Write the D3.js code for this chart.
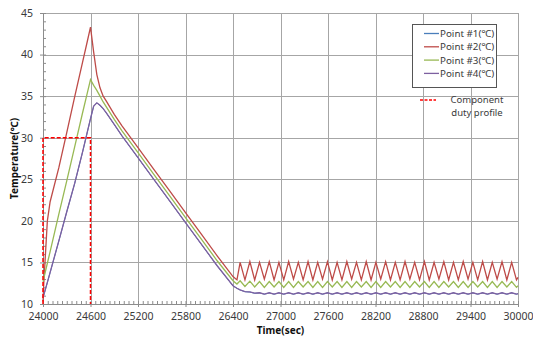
<!DOCTYPE html>
<html>
<head>
<meta charset="utf-8">
<script src="https://cdn.jsdelivr.net/npm/d3@7"></script>
<style>
body{ margin:0; background:#fff; }
text{ font-family:"Noto Sans","Noto Sans CJK KR",sans-serif; }
</style>
</head>
<body>
<div id="chart"></div>
<script>
// time axis (sec), shared by all four points
var times = [
	24000, 24010, 24025, 24055, 24090, 24200, 24300, 24400, 24500, 24560,
	24600, 24640, 24680, 24720, 24760, 24800, 24900, 25000, 25200, 25400,
	25600, 25800, 26000, 26200, 26400, 26450,
	26490, 26551, 26613, 26674, 26735, 26796, 26858, 26919, 26980, 27041,
	27103, 27164, 27225, 27286, 27348, 27409, 27470, 27531, 27593, 27654,
	27715, 27776, 27838, 27899, 27960, 28021, 28083, 28144, 28205, 28266,
	28328, 28389, 28450, 28511, 28573, 28634, 28695, 28756, 28818, 28879,
	28940, 29001, 29063, 29124, 29185, 29246, 29308, 29369, 29430, 29491,
	29553, 29614, 29675, 29736, 29798, 29859, 29920, 29981, 30000
];
// temperatures (℃)
var point1 = [
	10.78, 11.08, 11.58, 12.58, 13.78, 17.58, 21.08, 24.48, 28.28, 30.68,
	32.28, 33.78, 34.18, 33.88, 33.48, 32.98, 31.58, 30.18, 27.58, 24.98,
	22.38, 19.78, 17.18, 14.58, 12.18, 11.88,
	11.68, 11.48, 11.43, 11.28, 11.33, 11.18, 11.33, 11.18, 11.33, 11.18,
	11.33, 11.18, 11.33, 11.18, 11.33, 11.18, 11.33, 11.18, 11.33, 11.18,
	11.33, 11.18, 11.33, 11.18, 11.33, 11.18, 11.33, 11.18, 11.33, 11.18,
	11.33, 11.18, 11.33, 11.18, 11.33, 11.18, 11.33, 11.18, 11.33, 11.18,
	11.33, 11.18, 11.33, 11.18, 11.33, 11.18, 11.33, 11.18, 11.33, 11.18,
	11.33, 11.18, 11.33, 11.18, 11.33, 11.18, 11.33, 11.18, 11.23
];
var point2 = [
	10.3, 12.5, 15.0, 20.0, 22.3, 26.4, 30.6, 34.9, 39.1, 41.6,
	43.3, 40.3, 37.6, 36.0, 35.0, 34.4, 32.8, 31.4, 28.8, 26.2,
	23.6, 21.0, 18.4, 15.8, 13.3, 12.9,
	15.0, 12.9, 15.1, 12.9, 15.0, 13.0, 15.1, 12.9, 15.0, 12.9,
	15.1, 13.0, 15.0, 12.9, 15.1, 12.9, 15.0, 13.0, 15.1, 12.9,
	15.0, 12.9, 15.1, 13.0, 15.0, 12.9, 15.1, 12.9, 15.0, 13.0,
	15.1, 12.9, 15.0, 12.9, 15.1, 13.0, 15.0, 12.9, 15.1, 12.9,
	15.0, 13.0, 15.1, 12.9, 15.0, 12.9, 15.1, 13.0, 15.0, 12.9,
	15.1, 12.9, 15.0, 13.0, 15.1, 12.9, 15.0, 12.9, 13.2
];
var point3 = [
	12.7, 13.1, 13.7, 14.9, 16.3, 20.8, 24.8, 28.9, 33.0, 35.4,
	37.0, 36.3, 35.7, 35.0, 34.3, 33.7, 32.2, 30.8, 28.2, 25.6,
	23.0, 20.4, 17.8, 15.2, 12.8, 12.4,
	12.8, 12.1, 12.75, 12.05, 12.7, 12.0, 12.7, 12.05, 12.7, 12.0,
	12.7, 12.0, 12.7, 12.05, 12.7, 12.0, 12.7, 12.0, 12.7, 12.05,
	12.7, 12.0, 12.7, 12.0, 12.7, 12.05, 12.7, 12.0, 12.7, 12.0,
	12.7, 12.05, 12.7, 12.0, 12.7, 12.0, 12.7, 12.05, 12.7, 12.0,
	12.7, 12.0, 12.7, 12.05, 12.7, 12.0, 12.7, 12.0, 12.7, 12.05,
	12.7, 12.0, 12.7, 12.0, 12.7, 12.05, 12.7, 12.0, 12.2
];
var point4 = [
	10.8, 11.1, 11.6, 12.6, 13.8, 17.6, 21.1, 24.5, 28.3, 30.7,
	32.3, 33.8, 34.2, 33.9, 33.5, 33.0, 31.6, 30.2, 27.6, 25.0,
	22.4, 19.8, 17.2, 14.6, 12.2, 11.9,
	11.7, 11.5, 11.45, 11.3, 11.35, 11.2, 11.35, 11.2, 11.35, 11.2,
	11.35, 11.2, 11.35, 11.2, 11.35, 11.2, 11.35, 11.2, 11.35, 11.2,
	11.35, 11.2, 11.35, 11.2, 11.35, 11.2, 11.35, 11.2, 11.35, 11.2,
	11.35, 11.2, 11.35, 11.2, 11.35, 11.2, 11.35, 11.2, 11.35, 11.2,
	11.35, 11.2, 11.35, 11.2, 11.35, 11.2, 11.35, 11.2, 11.35, 11.2,
	11.35, 11.2, 11.35, 11.2, 11.35, 11.2, 11.35, 11.2, 11.25
];
var seriesNames = ["Point #1(℃)", "Point #2(℃)", "Point #3(℃)", "Point #4(℃)"];

// component duty profile (dashed red)
var dutyTime = [24000, 24000, 24600, 24600];
var dutyTemp = [10, 30, 30, 10];
var dutyName = ["Component", "duty profile"];

var xTicks = [24000, 24600, 25200, 25800, 26400, 27000, 27600, 28200, 28800, 29400, 30000];
var yTicks = [10, 15, 20, 25, 30, 35, 40, 45];

var colors = ["#4a7ebb", "#be4b48", "#98b954", "#7d60a0"];
var gridColor = "#a6a6a6";
var textColor = "#3a3a3a";

var divW = 533, divH = 343;
var margin = {left:43, top:13, right:15, bottom:39};
var width = divW - margin.left - margin.right;
var height = divH - margin.top - margin.bottom;

var xScale = d3.scaleLinear().domain([24000, 30000]).range([0, width]);
var yScale = d3.scaleLinear().domain([10, 45]).range([height, 0]);

var svg = d3.select("#chart")
		.append("svg")
		.attr("width", divW)
		.attr("height", divH)
		.append("g")
		.attr("transform", "translate("+margin.left+","+margin.top+")");

// grid
svg.selectAll(".vgrid").data(xTicks).enter()
	.append("line")
	.attr("x1", function(d){ return Math.round(xScale(d))+0.5; })
	.attr("x2", function(d){ return Math.round(xScale(d))+0.5; })
	.attr("y1", 0).attr("y2", height)
	.attr("stroke", gridColor);
svg.selectAll(".hgrid").data(yTicks).enter()
	.append("line")
	.attr("x1", 0).attr("x2", width)
	.attr("y1", function(d){ return Math.round(yScale(d))+0.5; })
	.attr("y2", function(d){ return Math.round(yScale(d))+0.5; })
	.attr("stroke", gridColor);

// axes
function styleAxis(g){
	g.select(".domain").attr("stroke", "#8c8c8c");
	g.selectAll(".tick line").attr("stroke", "#8c8c8c");
	g.selectAll("text").attr("fill", textColor).style("font-size", "10.5px");
}
svg.append("g")
	.attr("transform", "translate(0,"+height+")")
	.call(d3.axisBottom(xScale).tickValues(d3.range(24000, 30001, 60)).tickSize(-3).tickFormat(""))
	.call(styleAxis);
svg.append("g")
	.attr("transform", "translate(0,"+height+")")
	.call(d3.axisBottom(xScale).tickValues(xTicks).tickSize(3).tickPadding(6).tickFormat(d3.format("d")))
	.call(styleAxis);
svg.append("g")
	.call(d3.axisLeft(yScale).tickValues(d3.range(10, 46, 1)).tickSize(-3).tickFormat(""))
	.call(styleAxis);
svg.append("g")
	.call(d3.axisLeft(yScale).tickValues(yTicks).tickSize(3).tickPadding(7))
	.call(styleAxis);

// axis titles
svg.append("text")
	.text("Time(sec)")
	.attr("x", width/2)
	.attr("y", height+30)
	.attr("text-anchor", "middle")
	.attr("fill", "#111")
	.style("font-size", "10px")
	.style("font-weight", "bold");
svg.append("text")
	.text("Temperature(℃)")
	.attr("transform", "translate(-25,"+(height/2)+") rotate(-90)")
	.attr("text-anchor", "middle")
	.attr("fill", "#111")
	.style("font-size", "10px")
	.style("font-weight", "bold");

// lines (point #1 sits under point #4)
var allSeries = [point1, point2, point3, point4];
var line = d3.line()
		.x(function(d, i){ return xScale(times[i]); })
		.y(function(d){ return yScale(d); });
allSeries.forEach(function(s, i){
	svg.append("path")
		.datum(s)
		.attr("d", line)
		.style("fill", "none")
		.style("stroke", colors[i])
		.style("stroke-width", i == 0 ? 1 : 1.3);
});

// duty profile
var dutyLine = d3.line()
		.x(function(d, i){ return xScale(dutyTime[i]); })
		.y(function(d){ return yScale(d); });
svg.append("path")
	.datum(dutyTemp)
	.attr("d", dutyLine)
	.style("fill", "none")
	.style("stroke", "#ff0000")
	.style("stroke-width", 1.5)
	.style("stroke-dasharray", "4,2");

// legend
var lg = svg.append("g").attr("transform", "translate("+(412-margin.left)+","+(24-margin.top)+")");
lg.append("rect")
	.attr("x", 0.5).attr("y", 0.5)
	.attr("width", 84).attr("height", 63)
	.attr("fill", "#fff")
	.attr("stroke", "#555");
seriesNames.forEach(function(name, i){
	var yy = 9.5 + i*13.3;
	lg.append("line")
		.attr("x1", 12).attr("x2", 27)
		.attr("y1", yy).attr("y2", yy)
		.attr("stroke", colors[i])
		.attr("stroke-width", 1.3);
	lg.append("text")
		.text(name)
		.attr("x", 28)
		.attr("y", yy+3.4)
		.attr("fill", textColor)
		.style("font-size", "9.8px");
});
lg.append("line")
	.attr("x1", 8).attr("x2", 24)
	.attr("y1", 76).attr("y2", 76)
	.attr("stroke", "#ff0000")
	.attr("stroke-width", 1.5)
	.attr("stroke-dasharray", "3,1.5");
dutyName.forEach(function(t, i){
	lg.append("text")
		.text(t)
		.attr("x", 65)
		.attr("y", 79 + i*12.5)
		.attr("text-anchor", "middle")
		.attr("fill", textColor)
		.style("font-size", "9.5px");
});
</script>
</body>
</html>
